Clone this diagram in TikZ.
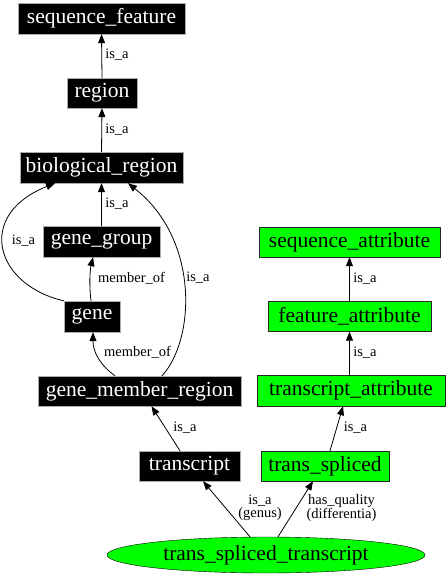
\documentclass[tikz,border=0pt]{standalone}
\usepackage{fontspec}
\setmainfont{Liberation Serif}
\usetikzlibrary{arrows.meta,shapes.geometric}
\definecolor{gvgreen}{HTML}{00FF00}
\begin{document}
\begin{tikzpicture}[x=1pt,y=-1pt,
  box/.style={rectangle, inner sep=0pt, font=\fontsize{21.5}{24}\selectfont},
  blk/.style={box, draw=gray!65, fill=black, text=white},
  grn/.style={box, draw=black!85, fill=gvgreen, text=black},
  lbl/.style={font=\fontsize{14.5}{13.5}\selectfont, inner sep=0pt, align=center},
  edge/.style={-{Triangle[length=9pt,width=7pt]}, line width=0.8pt, draw=black}
]
\useasboundingbox (0,0) rectangle (447,576);
% black nodes
\node[blk, minimum width=167pt, minimum height=31pt] (sf) at (101.5,18.5) {sequence\_feature};
\node[blk, minimum width=70pt, minimum height=30pt] (reg) at (102,93) {region};
\node[blk, minimum width=163pt, minimum height=31pt] (bio) at (101.5,167.5) {biological\_region};
\node[blk, minimum width=117pt, minimum height=31pt] (gg) at (101.5,241.5) {gene\_group};
\node[blk, minimum width=56pt, minimum height=31pt] (gene) at (92,316.5) {gene};
\node[blk, minimum width=203pt, minimum height=30pt] (gmr) at (139.5,391) {gene\_member\_region};
\node[blk, minimum width=101pt, minimum height=30pt] (tr) at (189.5,466) {transcript};
% green nodes
\node[grn, minimum width=181pt, minimum height=30pt] (sa) at (349.5,242) {sequence\_attribute};
\node[grn, minimum width=163pt, minimum height=30pt] (fa) at (349.5,316.5) {feature\_attribute};
\node[grn, minimum width=188pt, minimum height=31pt] (ta) at (351,390.5) {transcript\_attribute};
\node[grn, minimum width=128pt, minimum height=30pt] (ts) at (325,466) {trans\_spliced};
\node[ellipse, draw=black, fill=gvgreen, inner sep=0pt, minimum width=318pt, minimum height=36pt,
      font=\fontsize{21.5}{24}\selectfont] (tst) at (266,555) {trans\_spliced\_transcript};

% edges
\draw[edge] (reg.north) -- (sf.south);
\draw[edge] (bio.north) -- (reg.south);
\draw[edge] (gg.north) -- (bio.south);
\draw[edge] (gene.north west) .. controls (-5,285) and (-25,215) .. ([xshift=-46.5pt]bio.south);
\draw[edge] ([xshift=-1pt]gene.north) .. controls (89,285) and (90,270) .. ([xshift=-8.5pt]gg.south);
\draw[edge] ([xshift=-24.5pt]gmr.north) .. controls (100,365) and (93,352) .. ([xshift=1pt]gene.south);
\draw[edge] ([xshift=22.5pt]gmr.north) .. controls (195,340) and (200,240) .. ([xshift=26.5pt]bio.south);
\draw[edge] ([xshift=-9.5pt]tr.north) -- ([xshift=12pt]gmr.south);
\draw[edge] ([xshift=5pt]ts.north) -- ([xshift=-8pt]ta.south);
\draw[edge] (fa.south |- ta.north) -- (fa.south);
\draw[edge] (fa.north) -- (sa.south);
\draw[edge] ([xshift=-16pt]tst.north) -- ([xshift=13.5pt]tr.south);
\draw[edge] ([xshift=12pt]tst.north) -- ([xshift=-12pt]ts.south);

% labels
\node[lbl] (l1) at (117,55) {is\_a};
\node[lbl] (l2) at (117,130) {is\_a};
\node[lbl] (l3) at (117,204) {is\_a};
\node[lbl] (l4) at (23.5,241) {is\_a};
\node[lbl] (l5) at (131.5,278) {member\_of};
\node[lbl] (l6) at (137.5,352) {member\_of};
\node[lbl] (l7) at (198,278) {is\_a};
\node[lbl] (l8) at (185,428) {is\_a};
\node[lbl] (l9) at (355.5,428) {is\_a};
\node[lbl] (l10) at (365,353) {is\_a};
\node[lbl] (l11) at (365,279) {is\_a};
\node[lbl] (l12) at (260,508) {is\_a\\(genus)};
\node[lbl] (l13) at (341.5,508) {has\_quality\\(differentia)};
\end{tikzpicture}
\end{document}
